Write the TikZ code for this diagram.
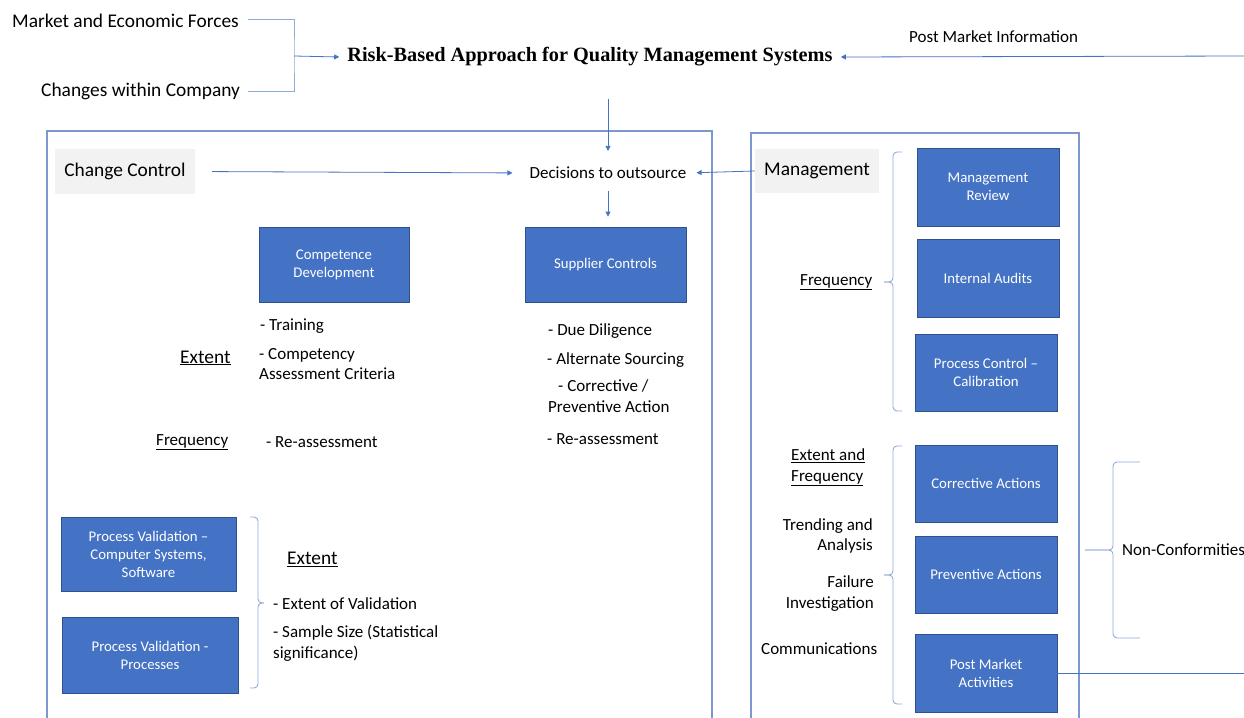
\documentclass[tikz,border=0pt]{standalone}
\usepackage{fontspec}
\setmainfont{Carlito}
\newfontfamily\titlefont{Liberation Serif}
\usetikzlibrary{arrows.meta}
\definecolor{boxblue}{HTML}{4472C4}
\definecolor{boxedge}{HTML}{2F528F}
\definecolor{linkblue}{HTML}{4472C4}
\definecolor{framec}{HTML}{7D98CE}
\definecolor{bracec}{HTML}{8FAADC}
\definecolor{graybg}{HTML}{F2F2F2}
\tikzset{
  bluebox/.style={draw=boxedge, line width=0.8pt, fill=boxblue, text=white,
    font=\fontsize{14.8}{18}\selectfont, align=center, inner sep=0pt},
  graybox/.style={fill=graybg, font=\fontsize{19.4}{23}\selectfont, inner sep=0pt},
  txt/.style={inner sep=0pt, font=\fontsize{17}{20.5}\selectfont, align=left},
  bigtxt/.style={inner sep=0pt, font=\fontsize{19.4}{23}\selectfont, align=left},
  link/.style={draw=linkblue, line width=0.8pt, -{Triangle[length=5pt,width=5pt]}},
  plainlink/.style={draw=linkblue, line width=0.8pt},
  feed/.style={draw=bracec, line width=0.9pt},
  frame/.style={draw=framec, line width=1.3pt},
  brace/.style={draw=bracec, line width=0.9pt, rounded corners=4pt},
}
\begin{document}
\begin{tikzpicture}[x=1pt, y=-1pt]
\useasboundingbox (0,0) rectangle (1244,717);

% frames
\draw[frame] (47,720) -- (47,131) -- (712,131) -- (712,720);
\draw[frame] (751,720) -- (751,133) -- (1079,133) -- (1079,720);

% top texts
\node[bigtxt, anchor=west] (market) at (12,21) {Market and Economic Forces};
\node[bigtxt, anchor=west] (changes) at (41,91) {Changes within Company};
\node[inner sep=8pt, font=\titlefont\bfseries\fontsize{20.3}{24}\selectfont] (title) at (590,57)
  {Risk-Based Approach for Quality Management Systems};
\node[txt, anchor=west] (pmi) at (909,37) {Post Market Information};

\coordinate (mk) at (248,19);
\coordinate (ch) at (248,91);
\coordinate (jn) at (294,56);
\coordinate (pmiR) at (1246,56);
\draw[feed] (mk) -| (jn) |- (ch);
\draw[link] (jn) -- (title.west);
\draw[link] (pmiR) -- (title.east);

% change control / decisions
\node[graybox, minimum width=140pt, minimum height=45pt] (cc) at (125,171.5) {Change Control};
\node[txt] (dec) at (608,173) {Decisions to outsource};
\node[graybox, minimum width=124pt, minimum height=44pt] (mgmt) at (817,171) {Management};

\draw[link, shorten <=24pt, shorten >=16pt] (title.south -| dec.north) -- (dec.north);
\draw[link, shorten <=17pt, shorten >=17pt] (cc.east) -- (dec.west);
\draw[link, shorten >=10pt] (mgmt.west) -- (dec.east);

% left column boxes
\node[bluebox, minimum width=150pt, minimum height=75pt] (comp) at (334,264.5) {Competence\\Development};
\node[bluebox, minimum width=161pt, minimum height=75pt] (supp) at (605.5,264.5) {Supplier Controls};
\draw[link, shorten <=12pt, shorten >=10pt] (dec.south) -- (dec.south |- supp.north);

\node[txt, anchor=west] (train) at (260,326) {- Training};
\node[txt, anchor=west] (compcrit) at (259,364) {- Competency\\Assessment Criteria};
\node[bigtxt, anchor=west] (ext1) at (180,358) {\underline{Extent}};
\node[txt, anchor=west] (freq1) at (156,442) {\underline{Frequency}};
\node[txt, anchor=west] (reas1) at (266,442) {- Re-assessment};

\node[txt, anchor=west] (dd) at (548,331) {- Due Diligence};
\node[txt, anchor=west] (alt) at (547,360) {- Alternate Sourcing};
\node[txt, anchor=west] (capa) at (548,396) {\hspace{10pt}- Corrective /\\Preventive Action};
\node[txt, anchor=west] (reas2) at (547,439) {- Re-assessment};

\node[bluebox, minimum width=175pt, minimum height=74pt] (pvcs) at (148.5,554) {Process Validation --\\Computer Systems,\\Software};
\node[bluebox, minimum width=176pt, minimum height=76pt] (pvp) at (150,655) {Process Validation -\\Processes};
\draw[brace] (250,517) -- (258,517) -- (258,603) -- (264,603);
\draw[brace] (264,603) -- (258,603) -- (258,688) -- (250,688);
\node[bigtxt, anchor=west] (ext2) at (287,559) {\underline{Extent}};
\node[txt, anchor=west] (extval) at (273,604) {- Extent of Validation};
\node[txt, anchor=west] (samp) at (273,643) {- Sample Size (Statistical\\significance)};

% right column
\node[bluebox, minimum width=142pt, minimum height=78pt] (mrev) at (988,187) {Management\\Review};
\node[bluebox, minimum width=142pt, minimum height=78pt] (iaud) at (988,278) {Internal Audits};
\node[bluebox, minimum width=142pt, minimum height=77pt] (pcc) at (986,372.5) {Process Control --\\Calibration};
\node[bluebox, minimum width=142pt, minimum height=77pt] (corr) at (986,483.5) {Corrective Actions};
\node[bluebox, minimum width=142pt, minimum height=77pt] (prev) at (986,574.5) {Preventive Actions};
\node[bluebox, minimum width=142pt, minimum height=78pt] (pma) at (986,673) {Post Market\\Activities};

\draw[brace] (902,152) -- (893,152) -- (893,282) -- (884,282);
\draw[brace] (884,282) -- (893,282) -- (893,411) -- (902,411);
\node[txt, anchor=west] (freq2) at (800,282) {\underline{Frequency}};

\draw[brace] (902,446) -- (893,446) -- (893,575) -- (884,575);
\draw[brace] (884,575) -- (893,575) -- (893,704) -- (902,704);
\node[txt, anchor=west] (ef) at (791,467.5) {\underline{Extent and}\\\underline{Frequency}};
\node[txt, anchor=east, align=right] (trend) at (873,536) {Trending and\\Analysis};
\node[txt, anchor=east, align=right] (fail) at (874,593.5) {Failure\\Investigation};
\node[txt, anchor=west] (comm) at (761,649) {Communications};

\draw[brace] (1140,462) -- (1113,462) -- (1113,550) -- (1085,550);
\draw[brace] (1085,550) -- (1113,550) -- (1113,638) -- (1140,638);
\node[txt, anchor=west] (nc) at (1122,550) {Non-Conformities};

\coordinate (pmaR) at (1246,673);
\draw[plainlink] (pma.east) -- (pmaR);
\end{tikzpicture}
\end{document}
